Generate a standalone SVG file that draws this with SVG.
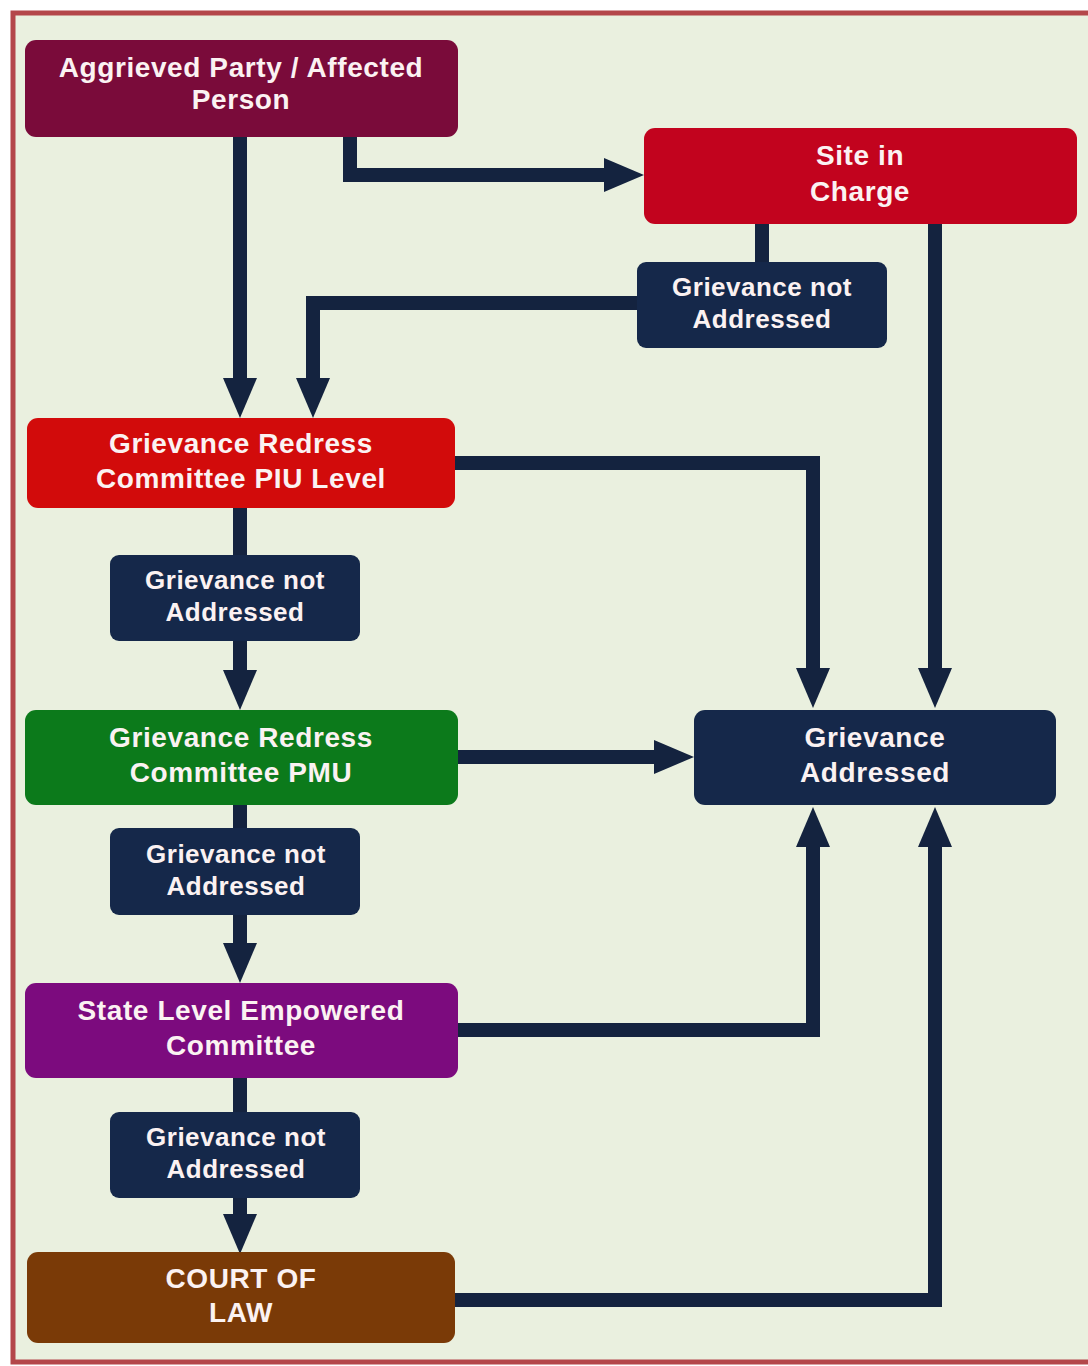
<svg xmlns="http://www.w3.org/2000/svg" width="1088" height="1366" viewBox="0 0 1088 1366">
<style>
.t{font-family:"Liberation Sans",Arial,sans-serif;font-weight:bold;font-size:28px;letter-spacing:0.6px;fill:#fbf2f2;text-anchor:middle;dominant-baseline:central}
.s{font-size:26px;letter-spacing:0.5px}
.c{fill:none;stroke:#14233f;stroke-width:14;stroke-linejoin:miter}
.nv{fill:#15284a}
</style>
<defs>
<marker id="ah" markerUnits="userSpaceOnUse" markerWidth="40" markerHeight="34" refX="0" refY="17" orient="auto" overflow="visible">
<path d="M0,0 L40,17 L0,34 z" fill="#14233f"/>
</marker>
</defs>
<rect x="0" y="0" width="1088" height="1366" fill="#ffffff"/>
<rect x="13" y="13" width="1090" height="1349" fill="#eaf0df" stroke="#b4474a" stroke-width="5"/>

<g id="connectors">
<path class="c" d="M240,137 V378" marker-end="url(#ah)"/>
<path class="c" d="M350,137 V175 H604" marker-end="url(#ah)"/>
<path class="c" d="M762,224 V262"/>
<path class="c" d="M637,303 H313 V378" marker-end="url(#ah)"/>
<path class="c" d="M935,224 V668" marker-end="url(#ah)"/>
<path class="c" d="M455,463 H813 V668" marker-end="url(#ah)"/>
<path class="c" d="M240,508 V555"/>
<path class="c" d="M240,641 V670" marker-end="url(#ah)"/>
<path class="c" d="M458,757 H654" marker-end="url(#ah)"/>
<path class="c" d="M240,805 V828"/>
<path class="c" d="M240,915 V943" marker-end="url(#ah)"/>
<path class="c" d="M458,1030 H813 V847" marker-end="url(#ah)"/>
<path class="c" d="M240,1078 V1112"/>
<path class="c" d="M240,1198 V1214" marker-end="url(#ah)"/>
<path class="c" d="M455,1300 H935 V847" marker-end="url(#ah)"/>
</g>

<g id="aggrieved">
<rect x="25" y="40" width="433" height="97" rx="11" fill="#7a0b3a"/>
<text class="t" x="241" y="67">Aggrieved Party / Affected</text>
<text class="t" x="241" y="99">Person</text>
</g>
<g id="site">
<rect x="644" y="128" width="433" height="96" rx="11" fill="#c2031e"/>
<text class="t" x="860" y="155">Site in</text>
<text class="t" x="860" y="191">Charge</text>
</g>
<g id="gna0">
<rect class="nv" x="637" y="262" width="250" height="86" rx="9"/>
<text class="t s" x="762" y="287">Grievance not</text>
<text class="t s" x="762" y="319">Addressed</text>
</g>
<g id="grc-piu">
<rect x="27" y="418" width="428" height="90" rx="11" fill="#d20b0b"/>
<text class="t" x="241" y="443">Grievance Redress</text>
<text class="t" x="241" y="478">Committee PIU Level</text>
</g>
<g id="gna1">
<rect class="nv" x="110" y="555" width="250" height="86" rx="9"/>
<text class="t s" x="235" y="580">Grievance not</text>
<text class="t s" x="235" y="612">Addressed</text>
</g>
<g id="grc-pmu">
<rect x="25" y="710" width="433" height="95" rx="11" fill="#0c7a1b"/>
<text class="t" x="241" y="737">Grievance Redress</text>
<text class="t" x="241" y="772">Committee PMU</text>
</g>
<g id="gna2">
<rect class="nv" x="110" y="828" width="250" height="87" rx="9"/>
<text class="t s" x="236" y="854">Grievance not</text>
<text class="t s" x="236" y="886">Addressed</text>
</g>
<g id="slec">
<rect x="25" y="983" width="433" height="95" rx="11" fill="#7c0b7e"/>
<text class="t" x="241" y="1010">State Level Empowered</text>
<text class="t" x="241" y="1045">Committee</text>
</g>
<g id="gna3">
<rect class="nv" x="110" y="1112" width="250" height="86" rx="9"/>
<text class="t s" x="236" y="1137">Grievance not</text>
<text class="t s" x="236" y="1169">Addressed</text>
</g>
<g id="court">
<rect x="27" y="1252" width="428" height="91" rx="11" fill="#7a3a07"/>
<text class="t" x="241" y="1278">COURT OF</text>
<text class="t" x="241" y="1312">LAW</text>
</g>
<g id="addressed">
<rect class="nv" x="694" y="710" width="362" height="95" rx="11"/>
<text class="t" x="875" y="737">Grievance</text>
<text class="t" x="875" y="772">Addressed</text>
</g>
</svg>
